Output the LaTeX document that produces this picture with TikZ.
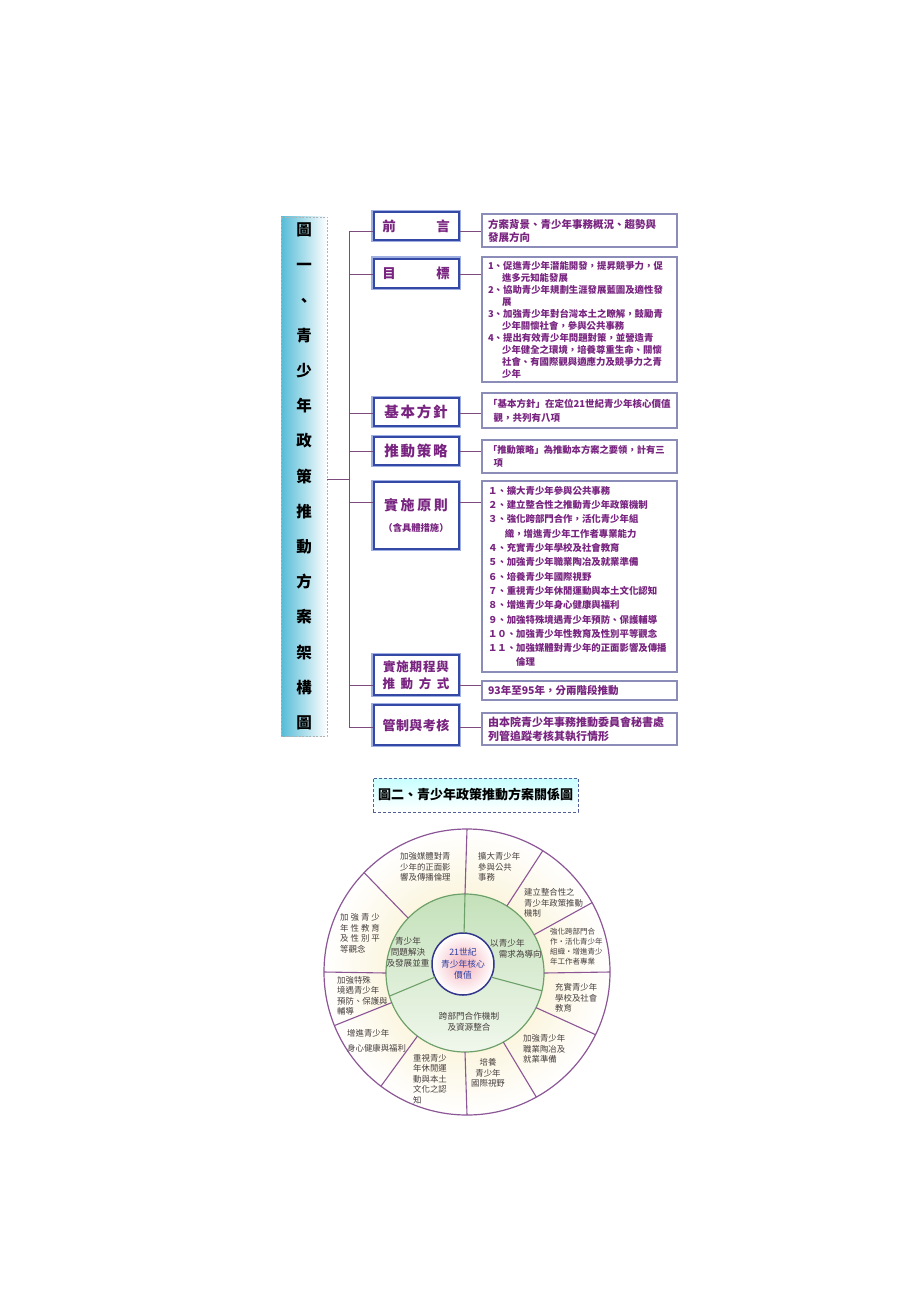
\documentclass[tikz,border=0pt]{standalone}
\usepackage{fontspec}
\setmainfont{Noto Sans CJK TC}
\usepackage{xcolor}
\usetikzlibrary{positioning,calc}

\definecolor{textpurple}{RGB}{120,36,128}
\definecolor{boxblue}{RGB}{52,72,165}
\definecolor{haloblue}{RGB}{160,175,225}
\definecolor{infoline}{RGB}{140,140,185}
\definecolor{trunkpurple}{RGB}{125,75,125}
\definecolor{bannercyan}{RGB}{85,188,215}
\definecolor{ringpurple}{RGB}{140,85,150}
\definecolor{ringcream}{RGB}{247,234,185}
\definecolor{midgreen}{RGB}{196,225,186}
\definecolor{midpale}{RGB}{240,247,236}
\definecolor{ringgreen}{RGB}{110,160,105}
\definecolor{corepink}{RGB}{244,178,188}
\definecolor{coreblue}{RGB}{50,55,140}
\definecolor{segcolor}{RGB}{70,62,62}
\definecolor{coretext}{RGB}{45,65,165}

\begin{document}
\begin{tikzpicture}[x=1pt, y=-1pt,
    banner/.style={draw=gray!60, dash pattern=on 2pt off 1.5pt, left color=bannercyan, right color=white, minimum width=46pt, minimum height=519pt, inner sep=0pt, align=center, font=\bfseries\fontsize{15.5}{35.2}\selectfont},
    headbox/.style={draw=boxblue, line width=2pt, fill=white, preaction={draw=haloblue, line width=4.5pt}, minimum width=85pt, inner sep=0pt, align=center, text=textpurple},
    infobox/.style={draw=infoline, line width=1.1pt, fill=white, text width=183pt, inner xsep=6pt, inner ysep=2pt, align=left, text=textpurple},
    branch/.style={draw=trunkpurple, line width=1pt},
    figtitle/.style={draw=boxblue!60!gray, dash pattern=on 3pt off 2pt, top color=cyan!22, bottom color=white, minimum width=205pt, minimum height=34pt, font=\bfseries\fontsize{13}{15}\selectfont},
    spoke/.style={draw=ringpurple, line width=1.1pt},
    midspoke/.style={draw=ringgreen, line width=1.1pt},
    segtext/.style={inner sep=0pt, align=left, text=segcolor, font=\fontsize{8.4}{10.5}\selectfont},
    midtext/.style={inner sep=0pt, text=segcolor, font=\fontsize{8.6}{11}\selectfont}]

    \fill[white] (0,0) rectangle (905,1289);

    % Figure 1 nodes
    \node [banner] (title1) at (304,476.5) {圖\\一\\、\\青\\少\\年\\政\\策\\推\\動\\方\\案\\架\\構\\圖};

    \node [headbox, minimum height=28pt, font=\bfseries\fontsize{13.5}{16}\selectfont] (qianyan) at (416,226) {前\hspace{3em}言};
    \node [headbox, minimum height=29pt, font=\bfseries\fontsize{13.5}{16}\selectfont] (mubiao) at (416,273) {目\hspace{3em}標};
    \node [headbox, minimum height=28pt, font=\bfseries\fontsize{14.5}{17}\selectfont\addfontfeatures{LetterSpace=12}] (jiben) at (416,412) {基本方針};
    \node [headbox, minimum height=28pt, font=\bfseries\fontsize{14.5}{17}\selectfont\addfontfeatures{LetterSpace=12}] (tuidong) at (416,451) {推動策略};
    \node [headbox, minimum height=67pt, font=\bfseries\fontsize{14}{21}\selectfont] (shishi) at (416,515.5) {{\addfontfeatures{LetterSpace=18}實施原則}\\{\fontsize{9.3}{12}\selectfont（含具體措施）}};
    \node [headbox, minimum height=40pt, font=\bfseries\fontsize{12.5}{17}\selectfont] (qicheng) at (416,675) {{\addfontfeatures{LetterSpace=7}實施期程與}\\推\hspace{.45em}動\hspace{.45em}方\hspace{.45em}式};
    \node [headbox, minimum height=40pt, font=\bfseries\fontsize{13}{16}\selectfont\addfontfeatures{LetterSpace=3}] (guanzhi) at (416,725) {管制與考核};

    \node [infobox, minimum height=33pt, font=\bfseries\fontsize{10.5}{13}\selectfont] (r1) at (579.5,230.5) {方案背景、青少年事務概況、趨勢與\\發展方向};
    \node [infobox, minimum height=125pt, font=\bfseries\fontsize{9.4}{12}\selectfont] (r2) at (579.5,319.5) {1、促進青少年潛能開發，提昇競爭力，促\\
        \hspace*{1.5em}進多元知能發展\\
        2、協助青少年規劃生涯發展藍圖及適性發\\
        \hspace*{1.5em}展\\
        3、加強青少年對台灣本土之瞭解，鼓勵青\\
        \hspace*{1.5em}少年關懷社會，參與公共事務\\
        4、提出有效青少年問題對策，並營造青\\
        \hspace*{1.5em}少年健全之環境，培養尊重生命、關懷\\
        \hspace*{1.5em}社會、有國際觀與適應力及競爭力之青\\
        \hspace*{1.5em}少年};
    \node [infobox, minimum height=35pt, font=\bfseries\fontsize{9.5}{14}\selectfont] (r3) at (579.5,410.5) {「基本方針」在定位21世紀青少年核心價值\\\hspace*{.6em}觀，共列有八項};
    \node [infobox, minimum height=33pt, font=\bfseries\fontsize{9.3}{13}\selectfont] (r4) at (579.5,456.5) {「推動策略」為推動本方案之要領，計有三\\\hspace*{.6em}項};
    \node [infobox, minimum height=191pt, font=\bfseries\fontsize{9.4}{14.3}\selectfont] (r5) at (579.5,576.5) {１、擴大青少年參與公共事務\\
        ２、建立整合性之推動青少年政策機制\\
        ３、強化跨部門合作，活化青少年組\\
        \hspace*{1.8em}織，增進青少年工作者專業能力\\
        ４、充實青少年學校及社會教育\\
        ５、加強青少年職業陶冶及就業準備\\
        ６、培養青少年國際視野\\
        ７、重視青少年休閒運動與本土文化認知\\
        ８、增進青少年身心健康與福利\\
        ９、加強特殊境遇青少年預防、保護輔導\\
        １０、加強青少年性教育及性別平等觀念\\
        １１、加強媒體對青少年的正面影響及傳播\\
        \hspace*{3em}倫理};
    \node [infobox, minimum height=19pt, font=\bfseries\fontsize{10.5}{12}\selectfont] (r6) at (579.5,690.5) {93年至95年，分兩階段推動};
    \node [infobox, minimum height=32pt, font=\bfseries\fontsize{11}{14}\selectfont] (r7) at (579.5,729) {由本院青少年事務推動委員會秘書處\\列管追蹤考核其執行情形};

    % Trunk and branches
    \coordinate (b1) at (349,232);
    \coordinate (b2) at (349,274);
    \coordinate (b3) at (349,413);
    \coordinate (b4) at (349,451);
    \coordinate (b5) at (349,502);
    \coordinate (b6) at (349,685);
    \coordinate (b7) at (349,727);
    \coordinate (bm) at (349,479);

    \draw [branch] (b1) -- (b7);
    \draw [branch] (bm -| title1.east) -- (bm);
    \draw [branch] (b1) -- (b1 -| qianyan.west);
    \draw [branch] (b1 -| qianyan.east) -- (b1 -| r1.west);
    \draw [branch] (b2) -- (b2 -| mubiao.west);
    \draw [branch] (b2 -| mubiao.east) -- (b2 -| r2.west);
    \draw [branch] (b3) -- (b3 -| jiben.west);
    \draw [branch] (b3 -| jiben.east) -- (b3 -| r3.west);
    \draw [branch] (b4) -- (b4 -| tuidong.west);
    \draw [branch] (b4 -| tuidong.east) -- (b4 -| r4.west);
    \draw [branch] (b5) -- (b5 -| shishi.west);
    \draw [branch] (b5 -| shishi.east) -- (b5 -| r5.west);
    \draw [branch] (b6) -- (b6 -| qicheng.west);
    \draw [branch] (b6 -| qicheng.east) -- (b6 -| r6.west);
    \draw [branch] (b7) -- (b7 -| guanzhi.west);
    \draw [branch] (b7 -| guanzhi.east) -- (b7 -| r7.west);

    % Figure 2
    \node [figtitle] (title2) at (475.5,795) {圖二、青少年政策推動方案關係圖};

    \node [circle, minimum size=286pt, inner sep=0pt, outer sep=0pt, draw=ringpurple, line width=1.2pt, inner color=ringcream, outer color=white] (outring) at (467,972) {};
    \node [circle, minimum size=158pt, inner sep=0pt, outer sep=0pt, draw=ringgreen, line width=1.2pt, top color=midgreen, bottom color=midpale] (midring) at (465,973) {};
    \node [circle, minimum size=62pt, inner sep=0pt, outer sep=0pt, draw=coreblue, line width=1.5pt, inner color=corepink, outer color=white, text=coretext, align=center, font=\fontsize{8.8}{11.5}\selectfont] (core) at (463,964) {21世紀\\青少年核心\\價值};

    \foreach \a in {90,58,29,0,-26,-61,-90,-127,-158,180,136}
        \draw [spoke] (midring.\a) -- (outring.\a);
    \draw [midspoke] (core.88) -- (midring.90);
    \draw [midspoke] (core.-25) -- (midring.-13);
    \draw [midspoke] (core.-155) -- (midring.-163);

    % Outer ring texts
    \node [segtext, anchor=west] (s1) at (478,867) {擴大青少年\\參與公共\\事務};
    \node [segtext, anchor=west] (s2) at (524,903) {建立整合性之\\青少年政策推動\\機制};
    \node [segtext, anchor=west, font=\fontsize{7.5}{10}\selectfont] (s3) at (550,946.5) {強化跨部門合\\作‧活化青少年\\組織‧增進青少\\年工作者專業};
    \node [segtext, anchor=west] (s4) at (555,998) {充實青少年\\學校及社會\\教育};
    \node [segtext, anchor=west] (s5) at (523,1049) {加強青少年\\職業陶冶及\\就業準備};
    \node [segtext, align=center] (s6) at (488,1073) {培養\\青少年\\國際視野};
    \node [segtext, anchor=west] (s7) at (413,1079) {重視青少\\年休閒運\\動與本土\\文化之認\\知};
    \node [segtext, anchor=west, font=\fontsize{8.4}{15}\selectfont] (s8) at (347,1040.5) {增進青少年\\身心健康與福利};
    \node [segtext, anchor=west] (s9) at (337,996) {加強特殊\\境遇青少年\\預防、保護與\\輔導};
    \node [segtext, anchor=west] (s10) at (340,933.5) {加\kern2pt 強\kern2pt 青\kern2pt 少\\年\kern2pt 性\kern2pt 教\kern2pt 育\\及\kern2pt 性\kern2pt 別\kern2pt 平\\等觀念};
    \node [segtext, anchor=west] (s11) at (400,867) {加強媒體對青\\少年的正面影\\響及傳播倫理};

    % Middle ring texts
    \node [midtext, align=center] (m1) at (408,952) {青少年\\問題解決\\及發展並重};
    \node [midtext, align=left, anchor=west] (m2) at (490,948.5) {以青少年\\\hspace*{1em}需求為導向};
    \node [midtext, align=center] (m3) at (469,1022) {跨部門合作機制\\及資源整合};

\end{tikzpicture}
\end{document}
